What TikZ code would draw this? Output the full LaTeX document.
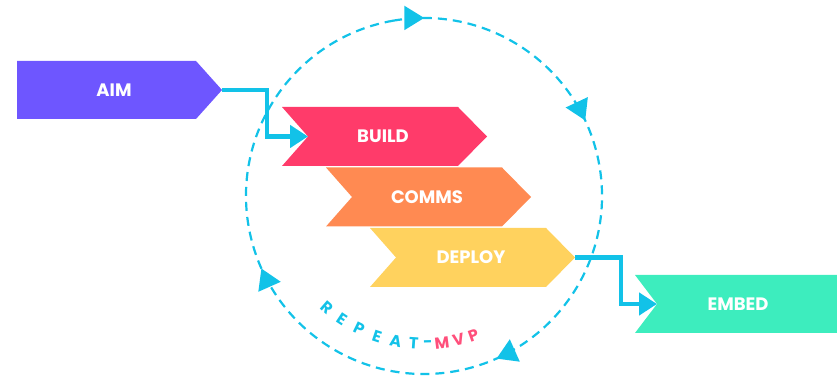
\documentclass[tikz,border=0pt]{standalone}
\usepackage{fontspec}
\setmainfont{Poppins}
\usetikzlibrary{arrows.meta,decorations.markings,calc}
\definecolor{aimc}{HTML}{6E56FF}
\definecolor{buildc}{HTML}{FF3B6A}
\definecolor{commsc}{HTML}{FF8A52}
\definecolor{deployc}{HTML}{FFD25E}
\definecolor{embedc}{HTML}{3DEDBE}
\definecolor{loopc}{HTML}{12C2E8}
\definecolor{mvpc}{HTML}{FF4F7B}

\begin{document}
\begin{tikzpicture}[x=1pt,y=1pt]
	\tikzset{stage/.style={text=white, font=\fontsize{18}{21}\selectfont\bfseries},
		flow/.style={draw=loopc, line width=4.5pt, -{Triangle[length=18pt,width=22pt]}},
		looptip/.tip={Triangle[length=20pt,width=24pt]},
		letter/.style={inner sep=0pt, font=\fontsize{16}{19}\selectfont\bfseries}}
	\def \radius {178}
	\useasboundingbox (0,0) rectangle (837,379);
	\coordinate (ctr) at (424,183);
	
	% repeat loop, clockwise
	\draw[loopc, line width=2.2pt, dash pattern=on 9pt off 6pt, postaction={decorate},
		decoration={markings,
			mark=at position 0.028 with {\arrow{looptip}},
			mark=at position 0.208 with {\arrow{looptip}},
			mark=at position 0.461 with {\arrow{looptip}},
			mark=at position 0.711 with {\arrow{looptip}}}]
		(ctr) ++(100:\radius) arc[start angle=100, end angle=-260, radius=\radius];
	
	% aim and embed
	\fill[aimc] (17,318) -- (196,318) -- (222,289) -- (196,260) -- (17,260) -- cycle;
	\coordinate (aim-out) at (222,289);
	\node[stage] (aim) at (114,289) {AIM};
	\fill[embedc] (635,104) -- (837,104) -- (837,46) -- (635,46) -- (657,75) -- cycle;
	\coordinate (embed-in) at (657,75);
	\node[stage] (embed) at (738,75) {EMBED};
	
	% the three steps
	\foreach \name/\txt/\col [count=\i from 0] in {build/BUILD/buildc, comms/COMMS/commsc, deploy/DEPLOY/deployc}{
		\pgfmathsetmacro\lx{282+44*\i}
		\pgfmathsetmacro\cy{242.5-60.5*\i}
		\fill[\col] (\lx,\cy+29.5) -- ++(176,0) -- ++(29,-29.5) -- ++(-29,-29.5) -- ++(-176,0) -- ++(26,29.5) -- cycle;
		\coordinate (\name-in) at (\lx+26,\cy);
		\coordinate (\name-out) at (\lx+205,\cy);
		\node[stage] (\name) at (\lx+101,\cy) {\txt};
	}
	
	\draw[flow] (aim-out) -- ++(45,0) |- (build-in);
	\draw[flow] (deploy-out) -- ++(46,0) |- (embed-in);
	
	% label round the loop
	\foreach \ch/\ang/\col [count=\k] in {R/229/loopc, E/236.5/loopc, P/244/loopc, E/251.5/loopc, A/259/loopc, T/266/loopc, -/271.5/loopc, M/277/mvpc, V/283.5/mvpc, P/289.5/mvpc}{
		\node[letter, text=\col, rotate=\ang+90] (rp\k) at ($(ctr)+(\ang:148)$) {\ch};
	}
\end{tikzpicture}
\end{document}
